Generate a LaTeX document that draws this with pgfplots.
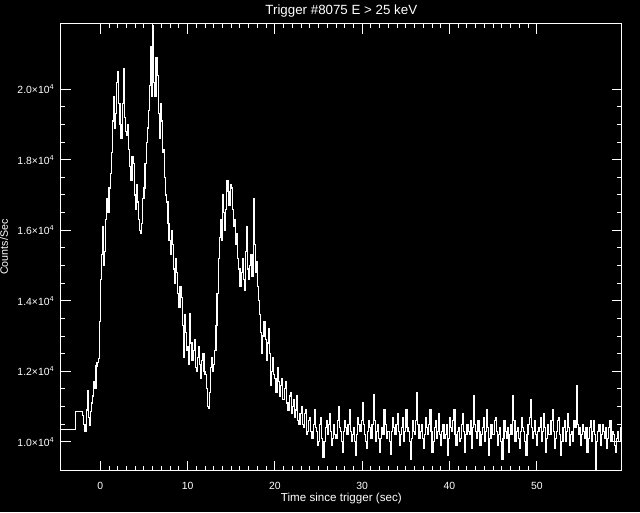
\documentclass[border=0pt]{standalone}
\usepackage{pgfplots}
\pgfplotsset{compat=1.18}
\usepackage{pgfplotstable}
\usepackage{fontspec}
\setmainfont{Liberation Sans}

\pgfplotstableread{
x y
-4.8 10360
-2.82 10870
-2.06 10750
-1.875 10500
-1.75 10300
-1.625 10900
-1.5 11450
-1.375 10700
-1.25 10450
-1.125 10850
-1.0 11100
-0.875 11300
-0.75 11700
-0.625 11500
-0.5 12150
-0.375 12250
-0.25 12350
-0.125 13400
0.0 14600
0.125 15300
0.25 16100
0.375 15000
0.5 15400
0.625 16300
0.75 16900
0.875 16500
1.0 17200
1.125 17600
1.25 18200
1.375 19100
1.5 19800
1.625 18900
1.75 19300
1.875 20200
2.0 20500
2.125 19600
2.25 19000
2.375 18600
2.5 19600
2.625 20600
2.75 19200
2.875 18800
3.0 18700
3.125 19000
3.25 18300
3.375 17800
3.5 17400
3.625 18100
3.75 17900
3.875 17000
4.0 16600
4.125 17300
4.25 16800
4.375 16300
4.5 16000
4.625 15900
4.75 16200
4.875 16900
5.0 17200
5.125 17900
5.25 18500
5.375 18900
5.5 19400
5.625 20100
5.75 21200
5.875 19800
6.0 21800
6.125 20200
6.25 19800
6.375 20900
6.5 20400
6.625 19300
6.75 18600
6.875 19600
7.0 19100
7.125 18200
7.25 18300
7.375 17500
7.5 17000
7.625 16800
7.75 16200
7.875 15700
8.0 15300
8.125 16000
8.25 15600
8.375 14900
8.5 14500
8.625 15200
8.75 14800
8.875 14200
9.0 13800
9.125 14400
9.25 14100
9.375 13300
9.5 12400
9.625 13600
9.75 13100
9.875 12600
10.0 12700
10.125 12200
10.25 13650
10.375 12800
10.5 12300
10.625 12600
10.75 12900
10.875 12100
11.0 12000
11.125 12400
11.25 12700
11.375 12200
11.5 11800
11.625 12300
11.75 12500
11.875 12000
12.0 11900
12.125 11500
12.25 11000
12.375 10950
12.5 11400
12.625 12100
12.75 12400
12.875 12000
13.0 12200
13.125 12600
13.25 13300
13.375 14200
13.5 15200
13.625 15800
13.75 16300
13.875 15700
14.0 17000
14.125 16500
14.25 16000
14.375 16600
14.5 17400
14.625 17100
14.75 16700
14.875 17300
15.0 17200
15.125 16600
15.25 16100
15.375 16300
15.5 15600
15.625 15900
15.75 15200
15.875 14900
16.0 14400
16.125 14800
16.25 15200
16.375 14600
16.5 14300
16.625 15400
16.75 16100
16.875 14900
17.0 14600
17.125 15000
17.25 15300
17.375 14700
17.5 16900
17.625 15600
17.75 14800
17.875 15100
18.0 14400
18.125 14000
18.25 13600
18.375 13100
18.5 12500
18.625 13000
18.75 13400
18.875 12900
19.0 12300
19.125 12800
19.25 13200
19.375 12500
19.5 11600
19.625 12000
19.75 12400
19.875 11900
20.0 11800
20.125 11400
20.25 12100
20.375 11700
20.5 11300
20.625 11600
20.75 11800
20.875 11200
21.0 11200
21.125 11500
21.25 11700
21.375 11100
21.5 10900
21.625 11300
21.75 11400
21.875 10800
22.0 11000
22.125 11200
22.25 10700
22.375 10900
22.5 11300
22.625 10600
22.75 10500
22.875 10800
23.0 11000
23.125 10500
23.25 10400
23.375 10800
23.5 10900
23.625 10200
23.75 10300
23.875 10600
24.0 10700
24.125 10300
24.25 10100
24.375 10500
24.5 10900
24.625 10400
24.75 10300
24.875 9900
25.0 10000
25.125 10500
25.25 10700
25.375 10100
25.5 9550
25.625 10000
25.75 10400
25.875 10600
26.0 10200
26.125 10500
26.25 10800
26.375 10300
26.5 9900
26.625 10100
26.75 10500
26.875 10200
27.0 10100
27.125 10600
27.25 11000
27.375 10400
27.5 10300
27.625 10000
27.75 9700
27.875 10300
28.0 10600
28.125 10400
28.25 10200
28.375 10500
28.5 10900
28.625 10300
28.75 10000
28.875 10200
29.0 10400
29.125 10000
29.25 9600
29.375 10200
29.5 10700
29.625 10500
29.75 10300
29.875 10600
30.0 11100
30.125 10500
30.25 10200
30.375 10000
30.5 9800
30.625 10300
30.75 10600
30.875 10400
31.0 10100
31.125 10500
31.25 11350
31.375 10600
31.5 10000
31.625 10300
31.75 10500
31.875 10100
32.0 9700
32.125 10100
32.25 10400
32.375 10200
32.5 10900
32.625 10500
32.75 10100
32.875 10300
33.0 10300
33.125 10000
33.25 9650
33.375 10300
33.5 10700
33.625 10400
33.75 10200
33.875 10500
34.0 10800
34.125 10300
34.25 9900
34.375 10200
34.5 10400
34.625 10700
34.75 10000
34.875 10300
35.0 10900
35.125 10400
35.25 10300
35.375 10000
35.5 9500
35.625 10100
35.75 10600
35.875 10300
36.0 10200
36.125 10600
36.25 11400
36.375 10500
36.5 10100
36.625 10300
36.75 10500
36.875 10100
37.0 9800
37.125 10200
37.25 10700
37.375 10400
37.5 10200
37.625 10500
37.75 10900
37.875 10300
38.0 9700
38.125 10000
38.25 10400
38.375 10600
38.5 10100
38.625 10300
38.75 10800
38.875 10200
39.0 9900
39.125 10300
39.25 10500
39.375 10100
39.5 10200
39.625 10500
39.75 9600
39.875 10100
40.0 10700
40.125 10400
40.25 10300
40.375 10600
40.5 10900
40.625 10200
40.75 9900
40.875 10300
41.0 10400
41.125 10000
41.25 10100
41.375 10500
41.5 10800
41.625 10300
41.75 9700
41.875 10200
42.0 10500
42.125 10300
42.25 10200
42.375 10600
42.5 9800
42.625 10400
42.75 11300
42.875 10500
43.0 10300
43.125 10100
43.25 10600
43.375 10300
43.5 9900
43.625 10200
43.75 10400
43.875 10700
44.0 10000
44.125 10300
44.25 10900
44.375 10400
44.5 9600
44.625 10100
44.75 10500
44.875 10200
45.0 10200
45.125 10600
45.25 10700
45.375 10300
45.5 9900
45.625 10200
45.75 10400
45.875 10000
46.0 9500
46.125 10100
46.25 10600
46.375 10300
46.5 10100
46.625 10400
46.75 9700
46.875 10200
47.0 10500
47.125 10200
47.25 11300
47.375 10600
47.5 10000
47.625 10300
47.75 10400
47.875 10100
48.0 9800
48.125 10300
48.25 10700
48.375 10400
48.5 10300
48.625 10000
48.75 9600
48.875 10200
49.0 10500
49.125 10700
49.25 11200
49.375 10400
49.5 10100
49.625 10300
49.75 10600
49.875 10200
50.0 9900
50.125 10300
50.25 10400
50.375 10700
50.5 10000
50.625 10300
50.75 10800
50.875 10400
51.0 9700
51.125 10100
51.25 10500
51.375 10200
51.5 10200
51.625 10600
51.75 10900
51.875 10300
52.0 9800
52.125 10100
52.25 10300
52.375 10600
52.5 10700
52.625 10200
52.75 9600
52.875 10000
53.0 10400
53.125 10600
53.25 10000
53.375 10300
53.5 10800
53.625 10400
53.75 9900
53.875 10200
54.0 10300
54.125 10000
54.25 10600
54.375 10400
54.5 11600
54.625 10500
54.75 10200
54.875 10400
55.0 9900
55.125 10200
55.25 10500
55.375 10300
55.5 10100
55.625 10400
55.75 9700
55.875 10100
56.0 10400
56.125 10600
56.25 10000
56.375 10300
56.5 10600
56.625 10200
56.75 9200
56.875 10000
57.0 10300
57.125 10500
57.25 9900
57.375 10200
57.5 10500
57.625 10300
57.75 10100
57.875 10400
58.0 9800
58.125 10100
58.25 10400
58.375 10600
58.5 10000
58.625 10300
58.75 10200
58.875 9900
59.0 9700
59.125 10100
59.25 10300
59.375 10000
59.5 10000
59.625 10400
59.75 10100
60.0 10100
}\lc

\begin{document}
\begin{tikzpicture}
\fill[black] (0,0) rectangle (480pt,384pt);
\begin{axis}[
  at={(45.5pt,31pt)}, anchor=south west,
  scale only axis, width=421pt, height=335.25pt,
  xmin=-4.54, xmax=59.76, ymin=9180, ymax=21860,
  xtick={0,10,20,30,40,50}, minor x tick num=9,
  ytick={10000,12000,14000,16000,18000,20000}, minor y tick num=3,
  yticklabels={1.0×10\textsuperscript{4},1.2×10\textsuperscript{4},1.4×10\textsuperscript{4},1.6×10\textsuperscript{4},1.8×10\textsuperscript{4},2.0×10\textsuperscript{4}},
  scaled y ticks=false,
  /pgf/number format/assume math mode=true,
  major tick length=7.5pt, minor tick length=3.4pt,
  axis line style={white, line width=0.75pt},
  tick style={white, line width=0.75pt},
  tick label style={text=white, font=\fontsize{7.8}{9}\selectfont},
  xticklabel style={yshift=-5pt},
  yticklabel style={xshift=-1.25pt},
  xlabel={Time since trigger (sec)},
  xlabel style={at={(axis description cs:0.5,-0.069)}, anchor=base, text=white, font=\fontsize{8.7}{10}\selectfont},
  ylabel={Counts/Sec},
  ylabel style={at={(axis description cs:-0.101,0.5)}, anchor=center, text=white, font=\fontsize{8}{9}\selectfont},
  clip mode=individual,
]
\addplot[const plot, white, line width=0.85pt] table {\lc};
\node[anchor=base, text=white, font=\fontsize{10}{12}\selectfont, inner sep=0pt] at (axis description cs:0.5,1.0195) {Trigger \#8075 E > 25 keV};
\end{axis}
\pgfresetboundingbox
\path[use as bounding box] (0,0) rectangle (480pt,384pt);
\end{tikzpicture}
\end{document}
